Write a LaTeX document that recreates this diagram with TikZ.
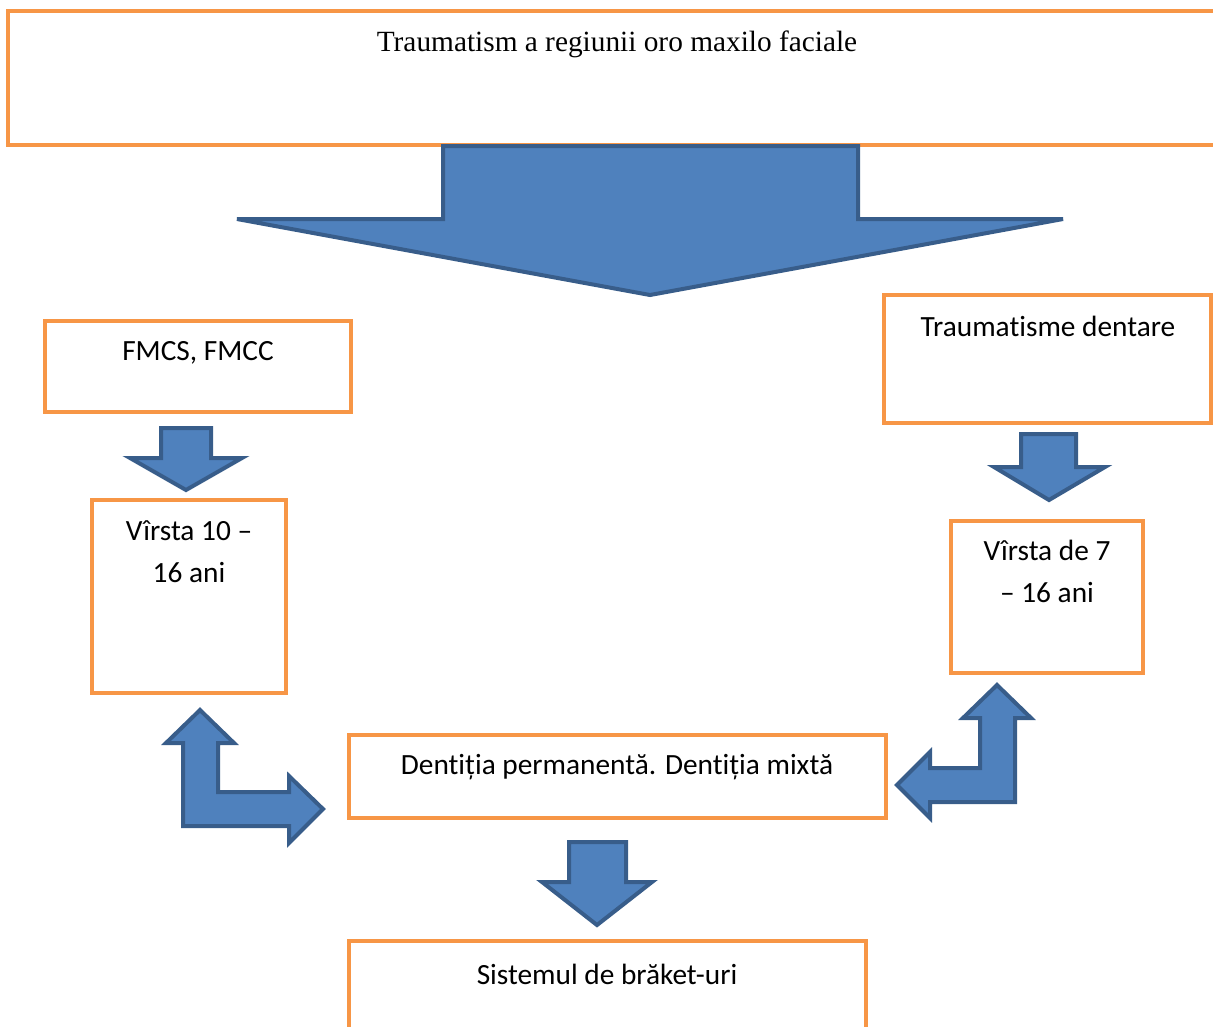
\documentclass[tikz,border=0pt]{standalone}
\usepackage{fontspec}
\setmainfont{Carlito}[Ligatures={NoCommon}]
\newfontfamily\timesfont{Liberation Serif}
\definecolor{boxorange}{HTML}{F79646}
\definecolor{arrowfill}{HTML}{4F81BD}
\definecolor{arrowline}{HTML}{385D8A}
\tikzset{
  box/.style={draw=boxorange, line width=3pt},
  blockarrow/.style={fill=arrowfill, draw=arrowline, line width=3pt, line join=miter},
  lbl/.style={font=\fontsize{22}{31.5}\selectfont, align=center, inner sep=0pt, anchor=center},
}
\begin{document}
\begin{tikzpicture}[x=0.75pt, y=-0.75pt]
\useasboundingbox (0,0) rectangle (1213,1026);
% boxes
\draw[box] (8,11) rectangle (1240,145);
\node[lbl, font=\timesfont\fontsize{22}{26}\selectfont] (t0) at (617,44) {Traumatism a regiunii oro maxilo faciale};

\draw[box] (45,321) rectangle (351,412);
\node[lbl] (t1) at (198,353) {FMCS, FMCC};

\draw[box] (92,500) rectangle (286,693);
\node[lbl, anchor=north] (t2) at (189,520) {Vîrsta 10 –\\16 ani};

\draw[box] (884,295) rectangle (1211,423);
\node[lbl] (t3) at (1048,326) {Traumatisme dentare};

\draw[box] (951,521) rectangle (1143,673);
\node[lbl, anchor=north] (t4) at (1047,540) {Vîrsta de 7\\– 16 ani};

\draw[box] (349,735) rectangle (886,818);
\node[lbl] (t5) at (617,767) {Dentiția permanentă. Dentiția mixtă};

\draw[box] (349,941) rectangle (866,1040);
\node[lbl] (t6) at (607,974) {Sistemul de brăket-uri};

% block arrows
\draw[blockarrow] (443,146) -- (858,146) -- (858,219) -- (1063,219) -- (650,295) -- (237,219) -- (443,219) -- cycle;
\draw[blockarrow] (161,428) -- (211,428) -- (211,458) -- (242,458) -- (186,490) -- (130,458) -- (161,458) -- cycle;
\draw[blockarrow] (1021,434) -- (1076,434) -- (1076,467) -- (1105,467) -- (1049,500) -- (994,467) -- (1021,467) -- cycle;
\draw[blockarrow] (569,842) -- (626,842) -- (626,882) -- (652,882) -- (597,925) -- (542,882) -- (569,882) -- cycle;
\draw[blockarrow] (200,710) -- (234,743) -- (218,743) -- (218,792) -- (289,792) -- (289,776) -- (323,809) -- (289,843) -- (289,826) -- (183,826) -- (183,743) -- (166,743) -- cycle;
\draw[blockarrow] (997,685) -- (1031,718) -- (1015,718) -- (1015,802) -- (930,802) -- (930,818) -- (897,785) -- (930,752) -- (930,768) -- (980,768) -- (980,718) -- (963,718) -- cycle;
\end{tikzpicture}
\end{document}
